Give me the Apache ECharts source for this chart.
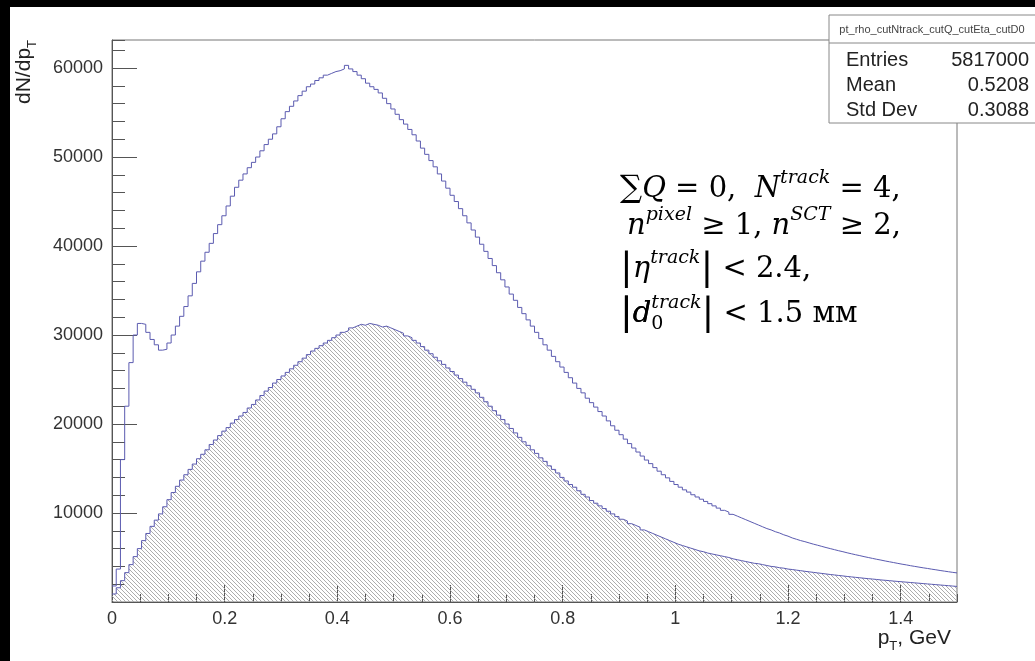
<!DOCTYPE html>
<html><head><meta charset="utf-8">
<script src="https://cdn.jsdelivr.net/npm/echarts@6/dist/echarts.min.js"></script>
<style>html,body{margin:0;padding:0;background:#fff;overflow:hidden}#c{width:1035px;height:661px}</style>
</head><body><div id="c"></div>
<script>
// ---- data ----
const binWidth = 0.0075;           // GeV per bin, 200 bins over 0..1.5
const xMax = 1.5;
const yMax = 63150;
const upperCounts = [1800,3700,16000,22000,26900,30000,31300,31200,30300,29500,
28900,28300,28400,29100,30000,31000,32100,33200,34400,35800,
37100,38300,39300,40300,41400,42400,43400,44500,45600,46600,
47400,48100,48800,49400,50000,50700,51400,52000,52600,53400,
54300,55100,55700,56300,56900,57400,57900,58200,58600,58900,
59200,59400,59600,59700,59900,60300,59900,59600,59200,58800,
58300,57900,57600,57200,56600,56000,55400,54800,54200,53700,
53100,52500,51800,51000,50300,49600,48900,48100,47300,46500,
45700,45000,44200,43400,42600,41800,41000,40200,39400,38600,
37800,37000,36200,35400,34600,33900,33100,32400,31700,31000,
30300,29600,28900,28300,27600,27000,26400,25800,25200,24600,
24000,23500,22900,22400,21900,21400,20900,20350,19800,19300,
18800,18300,17800,17300,16850,16400,15950,15550,15100,14700,
14300,13950,13550,13200,12900,12600,12350,12050,11800,11550,
11300,11050,10800,10550,10300,10100,9850,9650,9450,9250,
9050,8850,8650,8450,8250,8100,7900,7750,7550,7400,
7200,7050,6900,6780,6640,6500,6380,6250,6120,6000,
5880,5760,5650,5530,5420,5310,5210,5100,5000,4900,
4800,4710,4610,4520,4430,4340,4250,4170,4080,4000,
3920,3840,3770,3690,3620,3540,3470,3400,3330,3270];
const lowerCounts = [900,1600,2400,3300,4200,5100,6000,6900,7700,8500,
9200,9900,10700,11500,12300,13000,13700,14300,14900,15500,
16100,16600,17100,17700,18200,18700,19200,19600,20100,20500,
20900,21300,21800,22200,22700,23200,23700,24100,24600,25000,
25400,25800,26200,26600,27000,27400,27800,28200,28500,28800,
29100,29400,29700,30000,30300,30500,30800,31000,31200,31100,
31300,31200,31100,30900,31000,30800,30600,30400,30200,29900,
29700,29400,29100,28700,28300,27900,27500,27100,26700,26300,
25900,25500,25100,24700,24300,23900,23500,23000,22500,22000,
21500,21000,20500,20000,19500,19000,18500,18000,17600,17100,
16700,16200,15800,15300,14900,14500,14000,13600,13200,12900,
12500,12100,11800,11400,11100,10800,10500,10200,9900,9600,
9300,9100,8800,8600,8400,8100,7900,7700,7500,7300,
7100,6900,6700,6500,6350,6200,6050,5900,5750,5650,
5500,5400,5300,5200,5100,5000,4850,4750,4650,4550,
4450,4350,4300,4200,4100,4000,3950,3850,3800,3700,
3650,3580,3520,3450,3390,3330,3270,3210,3150,3090,
3040,2980,2930,2870,2820,2770,2720,2670,2620,2580,
2530,2480,2440,2400,2350,2310,2270,2230,2190,2150,
2110,2070,2030,1990,1950,1910,1870,1830,1790,1750];
const statsTitle = 'pt_rho_cutNtrack_cutQ_cutEta_cutD0';
const statsLabels = ['Entries','Mean','Std Dev'];
const statsValues = ['5817000','0.5208','0.3088'];

// ---- build ----
function steps(arr){
  const d = arr.map((v,i)=>[i*binWidth, v]);
  d.push([arr.length*binWidth, arr[arr.length-1]]);
  return d;
}
const pc = document.createElement('canvas'); pc.width = 4; pc.height = 4;
const g = pc.getContext('2d');
g.strokeStyle = '#a4a4a4'; g.lineWidth = 0.9; g.beginPath();
for (const o of [-4,0,4]) { g.moveTo(o-1,-1); g.lineTo(o+5,5); }
g.stroke();

const axisCol = '#555';
const lineCol = '#5b5bb0';
const sans = 'Liberation Sans';
const serif = 'DejaVu Serif';
const chart = echarts.init(document.getElementById('c'), null, {renderer:'canvas'});

const FS = 29;
const mS = {fontFamily:serif, fontStyle:'italic', fontSize:FS, lineHeight:40, color:'#000'};
const rS = {fontFamily:serif, fontSize:FS, lineHeight:40, color:'#000'};
const supS = {fontFamily:serif, fontStyle:'italic', fontSize:19, lineHeight:20, verticalAlign:'top', color:'#000'};
const subS = {fontFamily:serif, fontSize:19, lineHeight:20, verticalAlign:'bottom', color:'#000'};
const barS = {fontFamily:serif, fontSize:38, lineHeight:40, color:'#000'};
const richF = {m:mS, r:rS, sup:supS, sub:subS, bar:barS, sig:{fontFamily:serif, fontSize:31, lineHeight:40, color:'#000'},
  mT:Object.assign({}, mS, {color:'rgba(0,0,0,0)'}), barT:Object.assign({}, barS, {color:'rgba(0,0,0,0)'})};
const subT = {s:{fontSize:13, verticalAlign:'bottom', lineHeight:30, fontFamily:sans, color:'#222'}};

const graphics = [
  {type:'rect', shape:{x:0,y:0,width:1035,height:7}, style:{fill:'#000'}, z:100},
  {type:'rect', shape:{x:0,y:0,width:10,height:661}, style:{fill:'#000'}, z:100},
  // stats box
  {type:'rect', shape:{x:829,y:15,width:215,height:108}, style:{fill:'#fff', stroke:'#888', lineWidth:1}, z:50},
  {type:'line', shape:{x1:829,y1:43,x2:1040,y2:43}, style:{stroke:'#888', lineWidth:1}, z:51},
  {type:'text', x:932, y:30, style:{text:statsTitle, font:'11px '+sans, fill:'#444', align:'center', verticalAlign:'middle'}, z:51},
  // axis titles
  {type:'text', x:24, y:40, rotation:Math.PI/2, style:{text:'dN/dp{s|T}', rich:subT, font:'21px '+sans, fill:'#222', align:'right', verticalAlign:'middle'}, z:51},
  {type:'text', x:951, y:638, style:{text:'p{s|T}, GeV', rich:subT, font:'21px '+sans, fill:'#222', align:'right', verticalAlign:'middle'}, z:51},
  // formula
  {type:'text', x:620, y:169, style:{text:'{sig|∑}{m|Q}{r| = 0,  }{m|N}{sup|track}{r| = 4,}', rich:richF}, z:60},
  {type:'text', x:627, y:206, style:{text:'{m|n}{sup|pixel}{r| ≥ 1, }{m|n}{sup|SCT}{r| ≥ 2,}', rich:richF}, z:60},
  {type:'text', x:620, y:249, style:{text:'{bar||}{m|η}{sup|track}{bar||}{r| < 2.4,}', rich:richF}, z:60},
  {type:'text', x:620, y:294, style:{text:'{bar||}{m|d}{sup|track}{bar||}{r| < 1.5 мм}', rich:richF}, z:60},
  {type:'text', x:620, y:294, style:{text:'{barT||}{mT|d}{sub|0}', rich:richF}, z:61}
];
statsLabels.forEach((l,i)=>{
  graphics.push({type:'text', x:846, y:60+i*25, style:{text:l, font:'20px '+sans, fill:'#222', align:'left', verticalAlign:'middle'}, z:51});
  graphics.push({type:'text', x:1029, y:60+i*25, style:{text:statsValues[i], font:'20px '+sans, fill:'#222', align:'right', verticalAlign:'middle'}, z:51});
});

const xLabelFmt = v => (Math.abs(v) < 1e-9 ? '0' : String(+v.toFixed(1)));
const yLabelFmt = v => (v === 0 ? '' : String(v));

chart.setOption({
  animation:false,
  backgroundColor:'#fff',
  grid:{left:112, right:78, top:40, bottom:59, show:true, borderColor:'#777', borderWidth:1, backgroundColor:'transparent'},
  xAxis:[
    {type:'value', min:0, max:xMax, interval:0.2, position:'bottom',
     axisLine:{show:true, onZero:false, lineStyle:{color:axisCol, width:1}},
     axisTick:{show:true, inside:true, length:17, lineStyle:{color:axisCol}},
     axisLabel:{show:true, showMaxLabel:false, color:'#333', fontSize:18, fontFamily:sans, margin:8, formatter:xLabelFmt},
     splitLine:{show:false}},
    {type:'value', min:0, max:xMax, interval:0.05, position:'bottom',
     axisLine:{show:false, onZero:false}, axisTick:{show:true, inside:true, length:8, lineStyle:{color:axisCol}},
     axisLabel:{show:false}, splitLine:{show:false}}
  ],
  yAxis:[
    {type:'value', min:0, max:yMax, interval:10000, position:'left',
     axisLine:{show:true, onZero:false, lineStyle:{color:axisCol, width:1}},
     axisTick:{show:true, inside:true, length:25, lineStyle:{color:axisCol}},
     axisLabel:{show:true, showMaxLabel:false, color:'#333', fontSize:18, fontFamily:sans, margin:9, formatter:yLabelFmt},
     splitLine:{show:false}},
    {type:'value', min:0, max:yMax, interval:2000, position:'left',
     axisLine:{show:false, onZero:false}, axisTick:{show:true, inside:true, length:13, lineStyle:{color:axisCol}},
     axisLabel:{show:false}, splitLine:{show:false}}
  ],
  series:[
    {type:'line', name:'lower', xAxisIndex:0, yAxisIndex:0, step:'end', showSymbol:false, symbol:'none',
     data:steps(lowerCounts), lineStyle:{color:lineCol, width:1},
     areaStyle:{color:{image:pc, repeat:'repeat'}, opacity:1}, z:3},
    {type:'line', name:'upper', xAxisIndex:0, yAxisIndex:0, step:'end', showSymbol:false, symbol:'none',
     data:steps(upperCounts), lineStyle:{color:lineCol, width:1}, z:4}
  ],
  graphic:graphics
});
</script></body></html>
